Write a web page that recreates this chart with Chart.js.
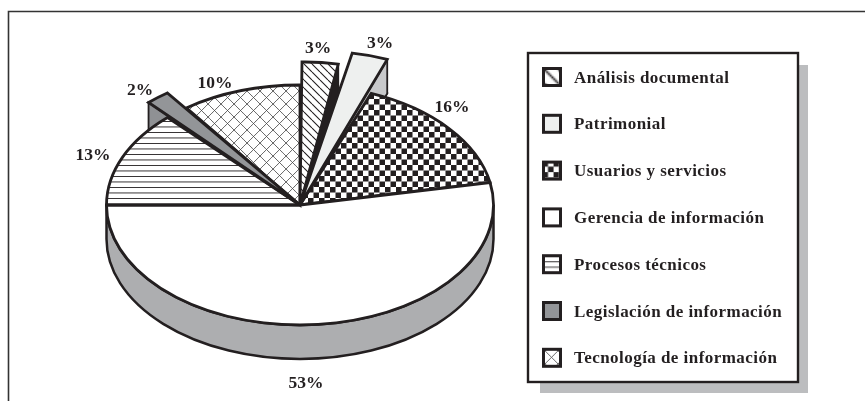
<!DOCTYPE html>
<html><head><meta charset="utf-8">
<style>html,body{margin:0;padding:0;background:#fff}canvas{display:block}</style>
<script src="https://cdn.jsdelivr.net/npm/chart.js@4"></script>
</head><body>
<canvas id="c" width="865" height="401"></canvas>
<script>
const categories = ["Análisis documental","Patrimonial","Usuarios y servicios","Gerencia de información","Procesos técnicos","Legislación de información","Tecnología de información"];
const values = [3,3,16,53,13,2,10];
const labelAnchors = [[318,53],[380,48],[452,112],[215,88],[140,95],[93,160],[306,388]];
const labelOrder = [0,1,2,6,5,4,3];
const wallColors = [ "#231f20","#c8c9cb",null,"#adaeb0",null,"#8f9194",null ];
const lifts = [[2,-23],[16,-34],null,null,null,[-19,-15],null];
const wallEdges = [1,1,null,null,null,0,null];
const ink = "#231f20", squash = 120/193.5, depth = 34;

function tile(w,h,fn){const t=document.createElement('canvas');t.width=w;t.height=h;const g=t.getContext('2d');g.fillStyle='#fff';g.fillRect(0,0,w,h);g.strokeStyle=ink;g.fillStyle=ink;fn(g,w,h);return document.createElement('canvas').getContext('2d').createPattern(t,'repeat');}
function diag(g,p,dir){g.beginPath();for(let i=-p;i<=p;i+=p){if(dir>0){g.moveTo(i,0);g.lineTo(i+p,p);}else{g.moveTo(i,p);g.lineTo(i+p,0);}}g.stroke();}
const patHatch = tile(8,8,(g,w)=>{g.lineWidth=1.1;diag(g,w,1);});
const patCheck = tile(11,11,g=>{g.fillRect(0,0,5.5,5.5);g.fillRect(5.5,5.5,5.5,5.5);});
const patLines = tile(4,11,g=>{g.fillRect(0,0,4,.9);g.fillRect(0,5.5,4,.9);});
const patCross = tile(13,13,(g,w)=>{g.lineWidth=.8;g.strokeStyle='#444';diag(g,w,1);diag(g,w,-1);});
const fills = [patHatch,"#eef0ef",patCheck,"#ffffff",patLines,"#939598",patCross];
const swatchPattern = [[1.75,0,0],null,[1,-2,-2],null,[1,0,4.5],null,[1,.5,.5]];

function liftMatrix(el,L){
  const R=el.outerRadius,a=el.startAngle,b=el.endAngle;
  const p1=[R*Math.cos(a),R*Math.sin(a)],p2=[R*Math.cos(b),R*Math.sin(b)];
  const t1=[p1[0]+L[0],squash*p1[1]+L[1]],t2=[p2[0]+L[0],squash*p2[1]+L[1]];
  const det=p1[0]*p2[1]-p2[0]*p1[1];
  return [(t1[0]*p2[1]-t2[0]*p1[1])/det,(t1[1]*p2[1]-t2[1]*p1[1])/det,(t2[0]*p1[0]-t1[0]*p2[0])/det,(t2[1]*p1[0]-t1[1]*p2[0])/det];
}
function place(ctx,el,i,dy){
  ctx.translate(el.x,el.y+dy);
  const L=lifts[i];
  if(L){const m=liftMatrix(el,L);ctx.transform(m[0],m[1],m[2],m[3],0,0);} else ctx.scale(1,squash);
  ctx.translate(-el.x,-el.y);
}
function slicePath(ctx,el,i,dy){
  ctx.save();place(ctx,el,i,dy);
  ctx.beginPath();ctx.moveTo(el.x,el.y);ctx.arc(el.x,el.y,el.outerRadius,el.startAngle,el.endAngle);ctx.closePath();
  ctx.restore();
}
function drawSlice(ctx,el,i,lw){
  ctx.save();place(ctx,el,i,0);
  const f=fills[i];
  if(f instanceof CanvasPattern) f.setTransform(ctx.getTransform().inverse());
  el.draw(ctx);
  ctx.restore();
  slicePath(ctx,el,i,0);
  ctx.lineJoin='miter';ctx.miterLimit=3;ctx.strokeStyle=ink;ctx.lineWidth=lw;ctx.stroke();
}
function drawLift(ctx,el,i){
  ctx.fillStyle=wallColors[i];ctx.strokeStyle=ink;ctx.lineWidth=1.8;ctx.miterLimit=3;
  slicePath(ctx,el,i,depth);ctx.fill();ctx.stroke();
  const ang=wallEdges[i]?el.endAngle:el.startAngle;
  const c=Math.cos(ang)*el.outerRadius,s=Math.sin(ang)*el.outerRadius;
  ctx.save();place(ctx,el,i,0);
  ctx.beginPath();ctx.moveTo(el.x,el.y);ctx.lineTo(el.x+c,el.y+s);
  ctx.restore();
  ctx.save();place(ctx,el,i,depth);
  ctx.lineTo(el.x+c,el.y+s);ctx.lineTo(el.x,el.y);
  ctx.restore();
  ctx.closePath();ctx.fill();ctx.stroke();
}
function drawMainWall(ctx,el){
  const a=Math.max(el.startAngle,0),b=Math.min(el.endAngle,Math.PI),dy=depth/squash;
  ctx.save();ctx.translate(el.x,el.y);ctx.scale(1,squash);ctx.translate(-el.x,-el.y);
  ctx.beginPath();ctx.arc(el.x,el.y,el.outerRadius,a,b);ctx.arc(el.x,el.y+dy,el.outerRadius,b,a,true);ctx.closePath();
  ctx.restore();
  ctx.fillStyle=wallColors[3];ctx.fill();ctx.strokeStyle=ink;ctx.lineWidth=2.5;ctx.stroke();
}

const piePlugin={id:'pie3d',
  beforeDraw(chart){
    const ctx=chart.ctx;ctx.save();
    ctx.strokeStyle='#333';ctx.lineWidth=1.6;ctx.beginPath();ctx.moveTo(8.5,401);ctx.lineTo(8.5,11.5);ctx.lineTo(865,11.5);ctx.stroke();
    ctx.fillStyle='#bcbdbf';ctx.fillRect(540,65,268,328);
    ctx.fillStyle='#fff';ctx.fillRect(528,53,270,329);
    ctx.strokeStyle=ink;ctx.lineWidth=2.4;ctx.strokeRect(528,53,270,329);
    categories.forEach((c,i)=>{
      const y=77+i*46.8;
      const f=fills[i],p=swatchPattern[i];
      if(p) f.setTransform(new DOMMatrix().translate(544.5+p[1],y-7.5+p[2]).scale(p[0]));
      ctx.fillStyle=f;ctx.fillRect(543.5,y-8.5,17,17);
      ctx.strokeStyle=ink;ctx.lineWidth=3;ctx.strokeRect(543.5,y-8.5,17,17);
      ctx.fillStyle=ink;ctx.font='bold 17px "Liberation Serif"';ctx.letterSpacing='0.45px';ctx.textAlign='left';ctx.textBaseline='alphabetic';
      ctx.fillText(c,574,y+5.5);
      ctx.letterSpacing='0px';
    });
    ctx.restore();
  },
  beforeDatasetsDraw(chart){
    const ctx=chart.ctx,els=chart.getDatasetMeta(0).data;ctx.save();
    [5,0,1].forEach(i=>drawLift(ctx,els[i],i));
    drawMainWall(ctx,els[3]);
    [2,3,4,6].forEach(i=>drawSlice(ctx,els[i],i,2.8));
    [5,0,1].forEach(i=>drawSlice(ctx,els[i],i,2.8));
    ctx.restore();
    return false;
  },
  afterDraw(chart){
    const ctx=chart.ctx;ctx.save();
    ctx.fillStyle=ink;ctx.font='bold 17.5px "Liberation Serif"';ctx.textAlign='center';ctx.textBaseline='alphabetic';
    labelOrder.forEach((v,k)=>{const a=labelAnchors[k];ctx.fillText(values[v]+'%',a[0],a[1]);});
    ctx.restore();
  }
};
new Chart(document.getElementById('c'),{
  type:'pie',
  data:{labels:categories,datasets:[{data:values,backgroundColor:fills,borderWidth:0}]},
  options:{responsive:false,animation:false,layout:{padding:{left:106.5,right:371.5,top:11.5,bottom:2.5}},
    plugins:{legend:{display:false},tooltip:{enabled:false}}},
  plugins:[piePlugin]
});
</script>
</body></html>
